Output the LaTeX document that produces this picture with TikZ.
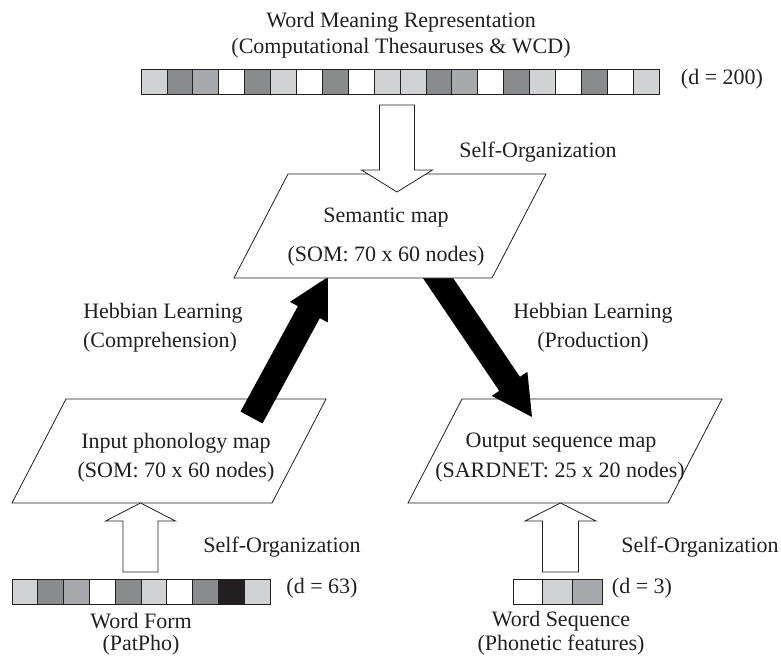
\documentclass[tikz,border=0pt]{standalone}
\usepackage{fontspec}
\setmainfont{Liberation Serif}
\usetikzlibrary{calc}
\definecolor{cL}{HTML}{D1D2D4}
\definecolor{cM}{HTML}{A7A9AC}
\definecolor{cD}{HTML}{8A8B8D}
\definecolor{cK}{HTML}{231F20}
\definecolor{cW}{HTML}{FFFFFF}
\newcommand\fatarrow[5]{% tail, tip, shaft half width, head half width, head length
  \coordinate (fa-base) at ($(#2)!#5!(#1)$);
  \fill[black] ($(#1)!#3!90:(#2)$) -- ($(fa-base)!#3!90:(#2)$) -- ($(fa-base)!#4!90:(#2)$)
    -- (#2) -- ($(fa-base)!#4!-90:(#2)$) -- ($(fa-base)!#3!-90:(#2)$) -- ($(#1)!#3!-90:(#2)$) -- cycle;
}
\begin{document}
\begin{tikzpicture}[x=1pt,y=-1pt,
  lbl/.style={font=\fontsize{22}{24}\selectfont, inner sep=0pt, text=cK},
  cellbox/.style={draw=cK, line width=0.8pt},
  mapbox/.style={draw=cK, fill=white, line width=0.8pt, line join=miter},
  openarrow/.style={draw=cK, fill=white, line width=0.8pt, line join=miter}]
\useasboundingbox (0,0) rectangle (781,658);

% feature bars
\foreach \c [count=\i from 0] in {cL,cD,cM,cW,cD,cL,cW,cD,cW,cL,cL,cD,cM,cW,cD,cL,cW,cD,cW,cL}
  \draw[cellbox, fill=\c] (141+\i*25.9,69) rectangle ++(25.9,25);
\foreach \c [count=\i from 0] in {cL,cD,cM,cW,cD,cL,cW,cD,cK,cL}
  \draw[cellbox, fill=\c] (12+\i*25.8,579) rectangle ++(25.8,25);
\foreach \c [count=\i from 0] in {cW,cL,cM}
  \draw[cellbox, fill=\c] (513+\i*29.7,579) rectangle ++(29.7,25);

% lower maps
\draw[mapbox] (66,399) coordinate (in-tl) -- (326,399) coordinate (in-tr)
  -- (272,503) coordinate (in-br) -- (12,503) coordinate (in-bl) -- cycle;
\draw[mapbox] (462,399) coordinate (out-tl) -- (722,399) coordinate (out-tr)
  -- (668,503) coordinate (out-br) -- (408,503) coordinate (out-bl) -- cycle;

% Hebbian connections
\coordinate (comp-tail) at (251.5,417.5);
\coordinate (comp-tip) at (328,277);
\coordinate (prod-tail) at (419,250);
\coordinate (prod-tip) at (532,417);
\fatarrow{comp-tail}{comp-tip}{12.5pt}{21.5pt}{40pt}
\fatarrow{prod-tail}{prod-tip}{12.5pt}{21.5pt}{40pt}

% semantic map
\draw[mapbox] (288,174) coordinate (sem-tl) -- (546,174) coordinate (sem-tr)
  -- (492,278) coordinate (sem-br) -- (234,278) coordinate (sem-bl) -- cycle;

% self-organization arrows
\draw[openarrow] (379.5,105) -- (414.5,105) -- (414.5,170) -- (432.5,170) -- (397,192)
  -- (361.5,170) -- (379.5,170) -- cycle;
\draw[openarrow] (123,572) -- (123,521) -- (105.5,521) -- (140.5,503) -- (175.5,521)
  -- (158,521) -- (158,572) -- cycle;
\draw[openarrow] (542.5,572) -- (542.5,521) -- (525,521) -- (560.5,503) -- (596,521)
  -- (578.5,521) -- (578.5,572) -- cycle;

% texts
\node[lbl] (title1) at (401,22) {Word Meaning Representation};
\node[lbl] (title2) at (401,48) {(Computational Thesauruses \& WCD)};
\node[lbl] (d200) at (722,79) {(d = 200)};
\node[lbl] (so1) at (538,152) {Self-Organization};
\node[lbl] (sem1) at (386,218) {Semantic map};
\node[lbl] (sem2) at (386,256) {(SOM: 70 x 60 nodes)};
\node[lbl] (hebL1) at (163,313) {Hebbian Learning};
\node[lbl] (hebL2) at (160,342) {(Comprehension)};
\node[lbl] (hebR1) at (593,313) {Hebbian Learning};
\node[lbl] (hebR2) at (593,342) {(Production)};
\node[lbl] (in1) at (176,443) {Input phonology map};
\node[lbl] (in2) at (176,472) {(SOM: 70 x 60 nodes)};
\node[lbl] (out1) at (561,443) {Output sequence map};
\node[lbl] (out2) at (560,472) {(SARDNET: 25 x 20 nodes)};
\node[lbl] (so2) at (282,547) {Self-Organization};
\node[lbl] (so3) at (700,547) {Self-Organization};
\node[lbl] (d63) at (322,588) {(d = 63)};
\node[lbl] (d3) at (642,588) {(d = 3)};
\node[lbl] (wf1) at (141,621) {Word Form};
\node[lbl] (wf2) at (141,645) {(PatPho)};
\node[lbl] (ws1) at (561,621) {Word Sequence};
\node[lbl] (ws2) at (561,645) {(Phonetic features)};
\end{tikzpicture}
\end{document}
